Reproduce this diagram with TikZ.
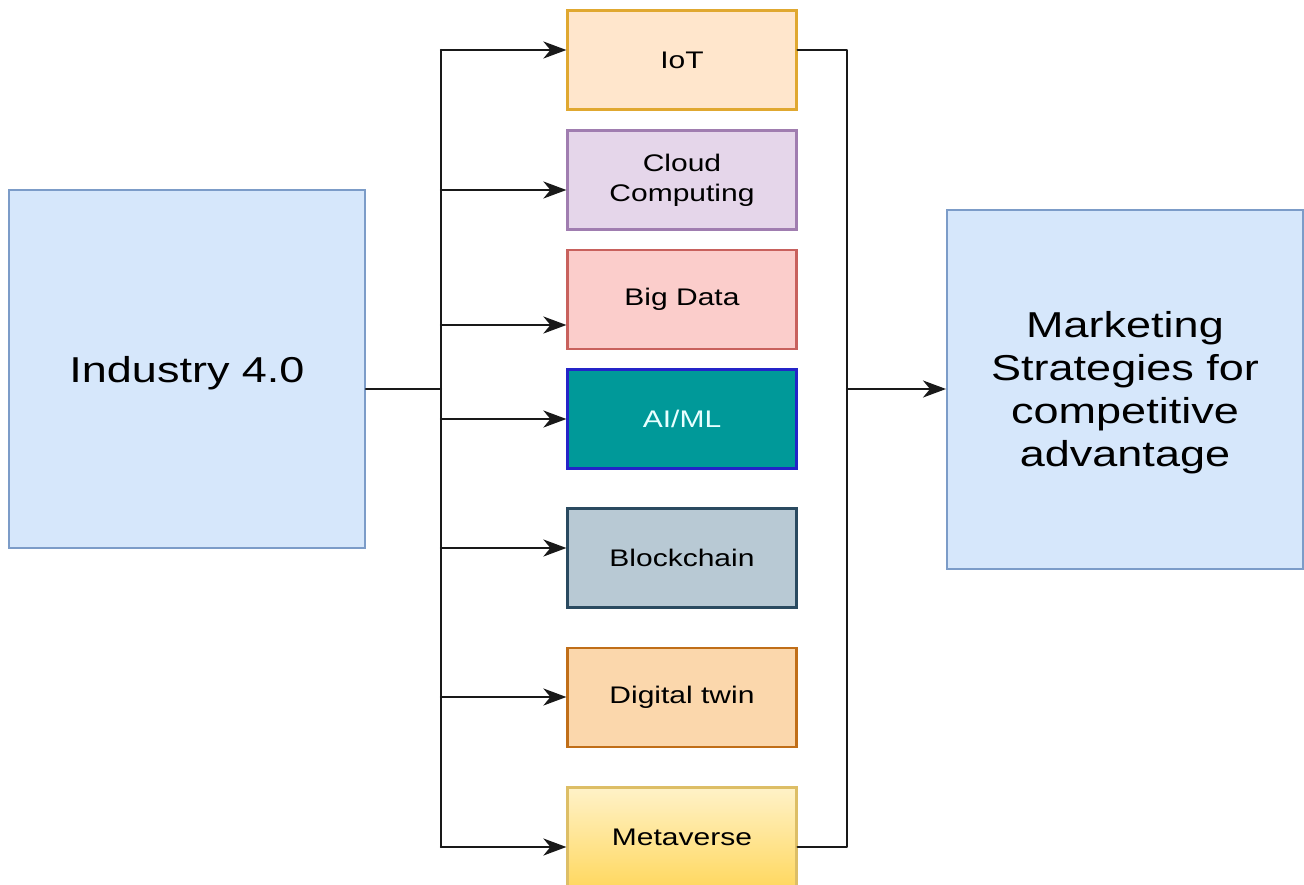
\documentclass[tikz,border=0pt]{standalone}
\usepackage{fontspec}
\setmainfont{Liberation Sans}[FakeStretch=1.25]
\usetikzlibrary{arrows.meta}

\definecolor{bigfill}{HTML}{D6E7FB}
\definecolor{bigline}{HTML}{7C9CC8}
\definecolor{iotfill}{HTML}{FFE6CC}
\definecolor{iotline}{HTML}{E0A830}
\definecolor{cloudfill}{HTML}{E5D6EA}
\definecolor{cloudline}{HTML}{A07DB0}
\definecolor{datafill}{HTML}{FBCDCB}
\definecolor{dataline}{HTML}{C8615D}
\definecolor{aifill}{HTML}{009999}
\definecolor{ailine}{HTML}{2424C8}
\definecolor{aitext}{HTML}{E8FFFF}
\definecolor{chainfill}{HTML}{B8C9D4}
\definecolor{chainline}{HTML}{2A4A60}
\definecolor{twinfill}{HTML}{FBD7AC}
\definecolor{twinline}{HTML}{C06E18}
\definecolor{metatop}{HTML}{FFF2C8}
\definecolor{metabot}{HTML}{FFD860}
\definecolor{metaline}{HTML}{DDBE66}

% lower the printed text without changing the box size used for centring
\newcommand{\lowered}[1]{\raisebox{-4pt}[\height][\depth]{#1}}

\tikzset{
  bigbox/.style={draw=bigline, fill=bigfill, line width=2pt, inner sep=0pt,
    minimum width=356pt, minimum height=358pt, align=center,
    font=\fontsize{36}{43}\selectfont},
  techbox/.style={line width=2.2pt, inner sep=0pt, minimum width=229pt,
    minimum height=99pt, align=center, font=\fontsize{24}{30}\selectfont},
  wire/.style={draw=black!90, line width=2.3pt, line join=round, line cap=round},
  feed/.style={wire, -{Stealth[length=23pt, width=17pt, inset=7pt]}},
}

\begin{document}
\begin{tikzpicture}[x=1pt, y=-1pt]
  \useasboundingbox (0,0) rectangle (1304,884);
  \clip (0,0) rectangle (1304,884);
  \fill[white] (0,0) rectangle (1304,884);

  % source and target blocks
  \node[bigbox] (ind) at (187,369) {\lowered{Industry 4.0}};
  \node[bigbox, minimum height=359pt] (mkt) at (1125,389)
    {\lowered{\begin{tabular}{@{}c@{}}Marketing\\Strategies for\\competitive\\advantage\end{tabular}}};

  % technology column
  \node[techbox, draw=iotline, fill=iotfill] (iot) at (682,60) {IoT};
  \node[techbox, draw=cloudline, fill=cloudfill] (cloud) at (682,180) {Cloud\\Computing};
  \node[techbox, draw=dataline, fill=datafill] (data) at (682,299.5) {Big Data};
  \node[techbox, draw=ailine, fill=aifill, text=aitext] (ai) at (682,419) {AI/ML};
  \node[techbox, draw=chainline, fill=chainfill] (chain) at (682,558) {Blockchain};
  \node[techbox, draw=twinline, fill=twinfill] (twin) at (682,697.5) {Digital twin};
  \node[techbox, draw=metaline, top color=metatop, bottom color=metabot,
        minimum height=100pt] (meta) at (682,837.5) {Metaverse};

  % distribution bus
  \coordinate (hub) at (441,389);
  \coordinate (t1) at (441,50);
  \coordinate (t2) at (441,190);
  \coordinate (t3) at (441,325);
  \coordinate (t4) at (441,419);
  \coordinate (t5) at (441,548);
  \coordinate (t6) at (441,697);
  \coordinate (t7) at (441,847);

  \draw[wire] (ind.east |- hub) -- (hub);
  \draw[wire] (t1) -- (t7);
  \draw[feed] (t1) -- (t1 -| iot.west);
  \draw[feed] (t2) -- (t2 -| cloud.west);
  \draw[feed] (t3) -- (t3 -| data.west);
  \draw[feed] (t4) -- (t4 -| ai.west);
  \draw[feed] (t5) -- (t5 -| chain.west);
  \draw[feed] (t6) -- (t6 -| twin.west);
  \draw[feed] (t7) -- (t7 -| meta.west);

  % collecting bus
  \coordinate (c1) at (847,50);
  \coordinate (c7) at (847,847);
  \coordinate (out) at (847,389);
  \draw[wire] (c1 -| iot.east) -- (c1) -- (c7) -- (c7 -| meta.east);
  \draw[feed] (out) -- (mkt.west);
\end{tikzpicture}
\end{document}
